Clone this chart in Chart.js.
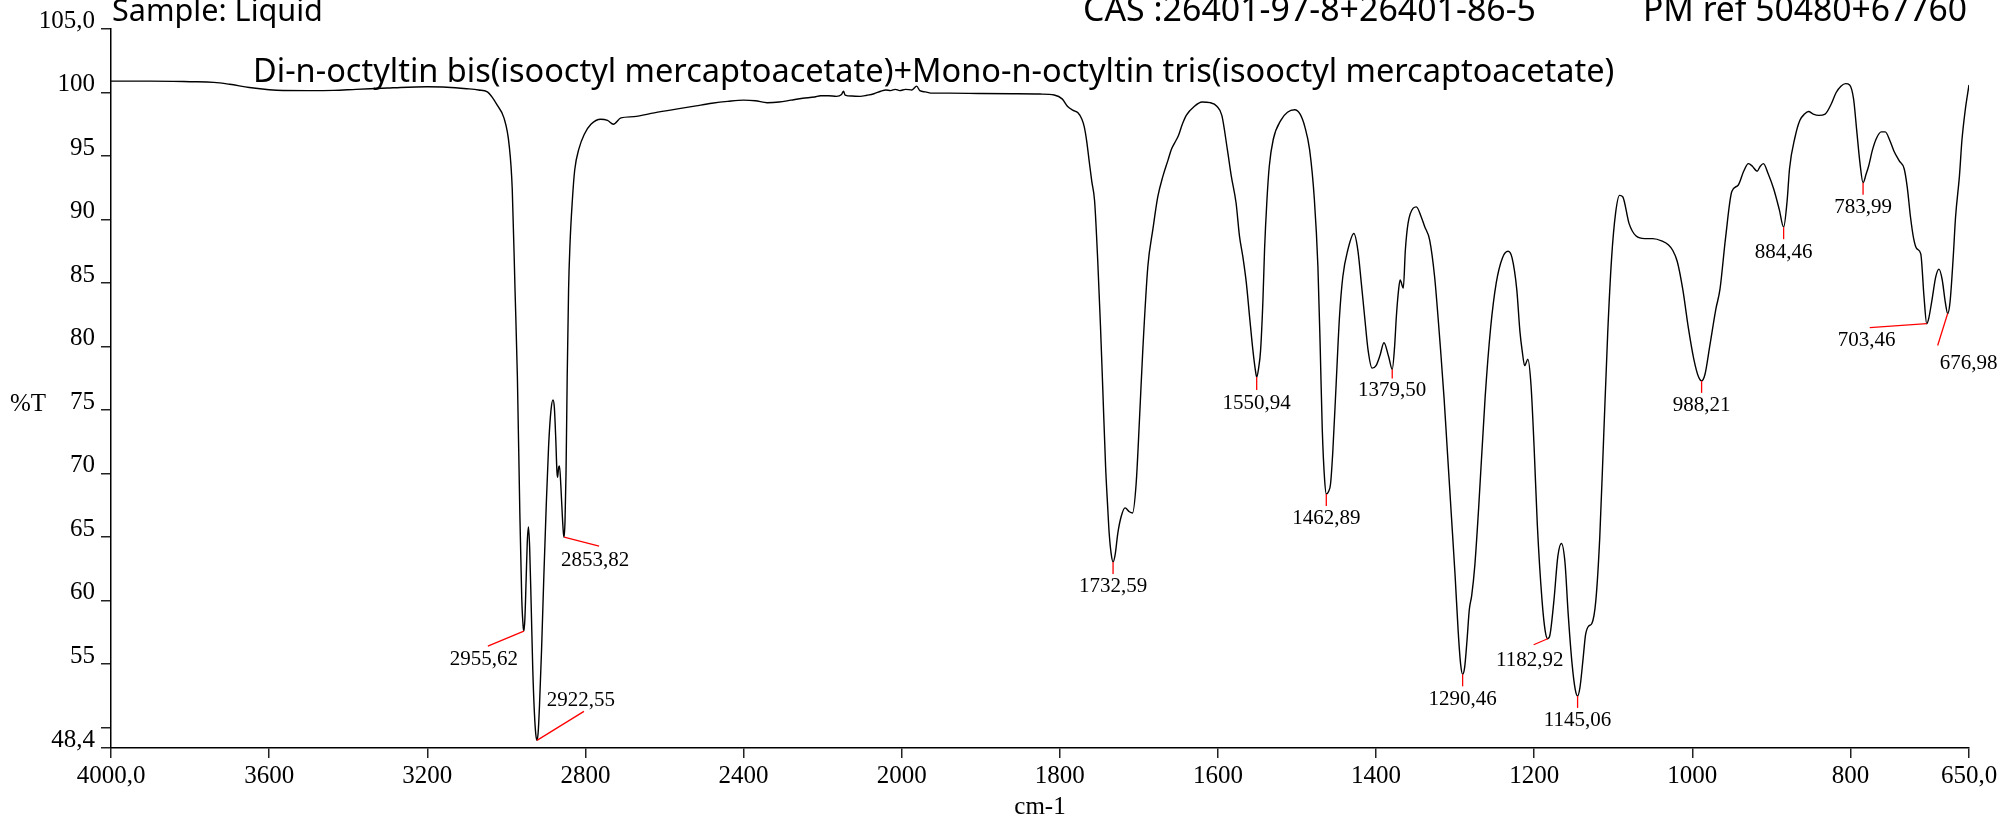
<!DOCTYPE html>
<html>
<head>
<meta charset="utf-8">
<script src="https://cdn.jsdelivr.net/npm/chart.js@4.4.0/dist/chart.umd.min.js"></script>
<style>
  html, body { margin: 0; padding: 0; background: #fff; }
  canvas { display: block; }
</style>
</head>
<body>
<canvas id="spectrum" width="2003" height="820"></canvas>
<script>
// spectrum, from 4000 down to 650 cm-1
const WAVENUMBERS = [
  4000, 3900, 3800, 3740, 3700, 3650, 3600, 3564, 3500, 3437,
  3380, 3300, 3268, 3200, 3150, 3100, 3070, 3048, 3035, 3023,
  3006, 2993, 2985, 2978, 2972, 2966, 2961, 2957.5, 2955.62, 2953,
  2950, 2947, 2944, 2941, 2937, 2933, 2929, 2925.5, 2922.55, 2919.5,
  2916, 2911, 2905, 2899, 2893, 2887, 2882, 2878.5, 2875, 2872,
  2870.5, 2867.5, 2865.5, 2862, 2858, 2855.5, 2853.82, 2851.5, 2849, 2846,
  2842.5, 2839, 2833, 2827, 2816, 2803, 2786, 2761, 2744, 2729,
  2710, 2677, 2626, 2559, 2520, 2480, 2440, 2400, 2370, 2340,
  2310, 2280, 2250, 2220, 2205, 2185, 2165, 2152, 2147, 2143,
  2125, 2105, 2088, 2070, 2053, 2040, 2028, 2016, 2005, 1995,
  1987, 1981, 1977, 1970, 1963, 1940, 1900, 1860, 1825, 1807,
  1797, 1790, 1783, 1777, 1772, 1769, 1766, 1763, 1759.5, 1756,
  1752, 1748.5, 1745.5, 1742, 1739.5, 1737.5, 1735, 1732.59, 1730, 1726.6,
  1722.4, 1717.4, 1712, 1708, 1703.4, 1699, 1695, 1688.6, 1682.3, 1676,
  1669.6, 1663, 1659, 1655, 1650, 1645, 1640, 1630, 1620, 1610,
  1601, 1595, 1588, 1583, 1577, 1572.7, 1568.5, 1564, 1560, 1555.7,
  1552.5, 1550.94, 1548.5, 1546, 1543, 1541, 1538, 1535, 1530, 1520,
  1512, 1503, 1496, 1490, 1484, 1478, 1473.5, 1470.5, 1468, 1465,
  1462.89, 1460, 1457.5, 1454.6, 1450.4, 1446.2, 1442, 1435.7, 1428, 1423,
  1418.6, 1414.4, 1410, 1405, 1400, 1395, 1390, 1384, 1379.5, 1376.5,
  1374.3, 1371.4, 1369.5, 1365.5, 1362.9, 1359.5, 1353, 1349, 1342.8, 1338.5,
  1332.2, 1325.9, 1321.6, 1318.3, 1314, 1310, 1305, 1300, 1296, 1293,
  1290.46, 1288, 1285, 1282, 1279, 1275, 1270, 1262, 1255, 1248,
  1240, 1233, 1228, 1222, 1218, 1215, 1212, 1208, 1204, 1200,
  1196, 1190, 1186, 1182.92, 1180, 1175, 1170, 1165.5, 1161, 1157,
  1152, 1148, 1145.06, 1142, 1138, 1135, 1131, 1127, 1122, 1117,
  1112, 1107, 1102, 1097, 1092, 1088, 1080, 1071, 1060, 1050,
  1038, 1030, 1025, 1019, 1012, 1005, 998, 992, 988.21, 984,
  978, 970, 965, 958, 950, 942, 935, 929, 924, 918,
  914, 910, 904, 897, 890, 884.46, 880, 877, 870, 864,
  858, 853, 847, 840, 832, 825, 818, 812, 806, 801,
  796, 792, 788, 783.99, 780, 777, 772, 767, 761, 756,
  750, 745, 738, 732, 728, 724, 720, 716, 711, 707,
  703.46, 701, 697, 692, 688, 684, 680, 676.98, 674, 670,
  667, 662, 659, 655, 650,
];
const TRANSMITTANCE = [
  100.9, 100.9, 100.85, 100.8, 100.65, 100.4, 100.22, 100.16, 100.15, 100.17,
  100.25, 100.35, 100.4, 100.45, 100.42, 100.3, 100.2, 100.05, 99.6, 99.0,
  98.0, 95.9, 92.4, 84.5, 77.6, 67.2, 60.2, 58.0, 57.6, 58.6,
  61.5, 64.6, 65.8, 64.2, 59.5, 54.5, 51.2, 49.5, 49.0, 49.6,
  51.8, 56, 62, 67.5, 72.2, 75.0, 75.8, 75.2, 72.8, 70.2,
  69.7, 70.5, 70.6, 69.0, 66.5, 65.3, 65.0, 66.3, 70, 77.6,
  84.5, 88.0, 91.5, 93.9, 95.6, 96.7, 97.5, 97.9, 97.8, 97.5,
  98.0, 98.1, 98.4, 98.75, 98.95, 99.15, 99.3, 99.4, 99.35, 99.2,
  99.25, 99.4, 99.55, 99.65, 99.75, 99.75, 99.7, 99.85, 100.1, 99.8,
  99.72, 99.7, 99.78, 99.9, 100.1, 100.2, 100.15, 100.25, 100.15, 100.25,
  100.2, 100.5, 100.15, 100.05, 99.95, 99.95, 99.92, 99.9, 99.88, 99.8,
  99.5, 98.9, 98.6, 98.4, 97.9, 97.3, 96.2, 94.7, 93.0, 91.5,
  86.8, 81.6, 76.5, 70.5, 67.5, 65.3, 63.7, 63.05, 63.6, 65.3,
  66.6, 67.3, 67.0, 66.9, 69.2, 74.5, 79.7, 86.3, 89.2, 91.8,
  93.4, 94.7, 95.5, 96.0, 96.6, 97.5, 98.2, 98.9, 99.25, 99.2,
  98.9, 98.2, 95.5, 93.4, 91.3, 88.7, 87.1, 85.0, 82.4, 79.7,
  78.1, 77.6, 78.3, 79.7, 83.7, 87.6, 91.5, 94.2, 96.3, 97.85,
  98.45, 98.64, 98.3, 97.3, 95.5, 91.6, 86.3, 79.7, 73.5, 69.5,
  68.4, 68.6, 69.2, 71.8, 77.1, 82.35, 85.5, 87.6, 88.9, 87.6,
  85.0, 82.35, 79.7, 78.3, 78.5, 79.3, 80.3, 79.2, 78.2, 80,
  82.35, 84.5, 85.25, 84.6, 87.6, 89.7, 90.9, 91.0, 90.2, 89.45,
  88.4, 85.5, 82.35, 79.7, 76, 72, 67, 62, 57.5, 55.0,
  54.2, 54.7, 56.8, 59.3, 60.4, 62.8, 67.5, 76, 81.5, 85,
  87, 87.5, 87, 84.5, 81.2, 79.6, 78.5, 79, 77, 72,
  66, 60, 57.6, 57.0, 57.3, 60, 63.5, 64.5, 63, 59,
  55, 53, 52.5, 53.2, 55.5, 57.3, 58, 58.2, 60, 65,
  73, 81, 87, 90.5, 91.9, 91.8, 89.7, 88.7, 88.5, 88.5,
  88.3, 88.0, 87.6, 86.7, 84.5, 81.5, 79, 77.6, 77.3, 77.8,
  80, 83, 84.5, 88.5, 92.2, 92.7, 93.8, 94.4, 94.2, 93.8,
  94.2, 94.4, 93.6, 92.4, 90.8, 89.4, 91.5, 94, 96.5, 97.8,
  98.3, 98.5, 98.3, 98.2, 98.3, 99, 100, 100.5, 100.7, 100.6,
  99.5, 97, 94.5, 92.9, 93.6, 94.2, 95.5, 96.4, 96.9, 96.9,
  96.2, 95.4, 94.6, 94.0, 92.5, 90.2, 88.5, 87.7, 87.3, 84,
  81.8, 82.2, 83.6, 85.5, 86.1, 85.3, 83.5, 82.6, 83.5, 87,
  90.2, 93.5, 96.2, 98.5, 100.6,
];

// labelled peaks
const PEAK_WAVENUMBERS = [2955.62, 2922.55, 2853.82, 1732.59, 1550.94, 1462.89, 1379.50, 1290.46, 1182.92, 1145.06, 988.21, 884.46, 783.99, 703.46, 676.98];
const PEAK_TRANSMITTANCE = [57.6, 49.0, 65.0, 63.05, 77.6, 68.4, 78.2, 54.2, 57.0, 52.5, 77.3, 89.4, 92.9, 81.8, 82.6];
const PEAK_LABELS = ['2955,62', '2922,55', '2853,82', '1732,59', '1550,94', '1462,89', '1379,50', '1290,46', '1182,92', '1145,06', '988,21', '884,46', '783,99', '703,46', '676,98'];

const X_TICKS = [4000, 3600, 3200, 2800, 2400, 2000, 1800, 1600, 1400, 1200, 1000, 800, 650];
const X_TICK_LABELS = ['4000,0', '3600', '3200', '2800', '2400', '2000', '1800', '1600', '1400', '1200', '1000', '800', '650,0'];
const Y_TICKS = [105, 100, 95, 90, 85, 80, 75, 70, 65, 60, 55, 50, 48.4];
const Y_TICK_LABELS = ['105,0', '100', '95', '90', '85', '80', '75', '70', '65', '60', '55', '', '48,4'];

const SERIF = '"Liberation Serif", "Times New Roman", serif';
const SANS = '"Noto Sans", "DejaVu Sans", sans-serif';

// IR spectra: below 2000 cm-1 the axis is stretched twice
const X_BREAK = 2000;
const X_STRETCH = 2;

class WavenumberScale extends Chart.LinearScale {
  static id = 'wavenumber';
  static defaults = Chart.LinearScale.defaults;

  toDecimal(value) {
    const span = (this.max - X_BREAK) + (X_BREAK - this.min) * X_STRETCH;
    const d = value >= X_BREAK
      ? this.max - value
      : (this.max - X_BREAK) + (X_BREAK - value) * X_STRETCH;
    return d / span;
  }

  getPixelForValue(value) {
    if (value === null || value === undefined) return NaN;
    return this.getPixelForDecimal(this.toDecimal(value));
  }

  getValueForPixel(pixel) {
    const span = (this.max - X_BREAK) + (X_BREAK - this.min) * X_STRETCH;
    const d = this.getDecimalForPixel(pixel) * span;
    const upper = this.max - X_BREAK;
    return d <= upper ? this.max - d : X_BREAK - (d - upper) / X_STRETCH;
  }
}
Chart.register(WavenumberScale);

const peakMarks = {
  id: 'peakMarks',
  afterDatasetsDraw: (chart, args, opts) => {
    const { ctx, scales: { x, y } } = chart;
    ctx.save();
    ctx.font = `${opts.size}px ${SERIF}`;
    ctx.textAlign = 'center';
    ctx.textBaseline = 'middle';
    PEAK_WAVENUMBERS.forEach((wn, i) => {
      const px = x.getPixelForValue(wn);
      const py = y.getPixelForValue(PEAK_TRANSMITTANCE[i]);
      const [ldx, ldy, tdx, tdy] = opts.offsets[i];
      ctx.strokeStyle = '#ff0000';
      ctx.lineWidth = 1.3;
      ctx.beginPath();
      ctx.moveTo(px, py);
      ctx.lineTo(px + ldx, py + ldy);
      ctx.stroke();
      ctx.fillStyle = '#000';
      ctx.fillText(PEAK_LABELS[i], px + tdx, py + tdy);
    });
    ctx.restore();
  },
};

const fitText = (ctx, text, x, y, width, family) => {
  ctx.font = `30px ${family}`;
  const size = 30 * width / ctx.measureText(text).width;
  ctx.font = `${size.toFixed(2)}px ${family}`;
  ctx.fillText(text, x, y);
};

const frameText = {
  id: 'frameText',
  afterDraw: chart => {
    const ctx = chart.ctx;
    const area = chart.chartArea;
    ctx.save();
    ctx.fillStyle = '#000';
    ctx.textBaseline = 'alphabetic';
    ctx.textAlign = 'left';
    fitText(ctx, 'Sample: Liquid', 112, 21, 211, SANS);
    fitText(ctx, 'CAS :26401-97-8+26401-86-5', 1083, 21, 453, SANS);
    fitText(ctx, 'PM ref 50480+67760', 1643, 21, 324, SANS);
    fitText(ctx, 'Di-n-octyltin bis(isooctyl mercaptoacetate)+Mono-n-octyltin tris(isooctyl mercaptoacetate)', 253, 82, 1362, SANS);

    ctx.font = `25px ${SERIF}`;
    ctx.textAlign = 'center';
    ctx.textBaseline = 'middle';
    ctx.fillText('%T', 28, 404);
    ctx.fillText('cm-1', (area.left + area.right) / 2, 807);
    ctx.restore();
  },
};

const tickFont = { family: SERIF, size: 25 };

new Chart(document.getElementById('spectrum'), {
  type: 'line',
  data: {
    datasets: [{
      data: WAVENUMBERS.map((wn, i) => ({ x: wn, y: TRANSMITTANCE[i] })),
      borderColor: '#000',
      borderWidth: 1.4,
      pointRadius: 0,
      fill: false,
      cubicInterpolationMode: 'monotone',
    }],
  },
  plugins: [peakMarks, frameText],
  options: {
    responsive: false,
    animation: false,
    devicePixelRatio: 1,
    events: [],
    layout: { padding: { left: 0, right: 34, top: 29, bottom: 0 } },
    plugins: {
      legend: { display: false },
      tooltip: { enabled: false },
      peakMarks: {
        size: 21,
        // [line dx, line dy, label dx, label dy] from the peak, in px
        offsets: [
          [-36, 15, -40, 28],
          [47, -29, 44, -40],
          [35, 9, 31, 23],
          [0, 12, 0, 25],
          [0, 13, 0, 26],
          [0, 12, 0, 25],
          [0, 9, 0, 21],
          [0, 12, 0, 25],
          [-14, 6, -18, 22],
          [0, 12, 0, 25],
          [0, 12, 0, 25],
          [0, 12, 0, 25],
          [0, 12, 0, 25],
          [-57, 4, -60, 17],
          [-10, 32, 21, 50],
        ],
      },
    },
    scales: {
      x: {
        type: 'wavenumber',
        min: 650,
        max: 4000,
        afterBuildTicks: scale => { scale.ticks = X_TICKS.map(v => ({ value: v })); },
        afterFit: scale => { scale.height = 72; },
        grid: { drawOnChartArea: false, drawTicks: true, tickLength: 10, color: '#222', lineWidth: 1.5 },
        border: { color: '#000', width: 1.5 },
        ticks: {
          autoSkip: false,
          maxRotation: 0,
          padding: 3,
          color: '#000',
          font: tickFont,
          callback: (value, index) => X_TICK_LABELS[index],
        },
      },
      y: {
        min: 48.4,
        max: 105,
        afterBuildTicks: scale => { scale.ticks = Y_TICKS.map(v => ({ value: v })); },
        afterFit: scale => { scale.width = 111; },
        grid: { drawOnChartArea: false, drawTicks: true, tickLength: 10, color: '#222', lineWidth: 1.5 },
        border: { color: '#000', width: 1.5 },
        ticks: {
          autoSkip: false,
          padding: 6,
          labelOffset: -8,
          color: '#000',
          font: tickFont,
          callback: (value, index) => Y_TICK_LABELS[index],
        },
      },
    },
  },
});
</script>
</body>
</html>
